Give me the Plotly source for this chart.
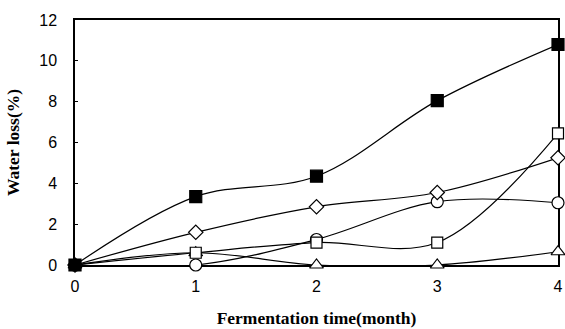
import plotly.graph_objects as go

months = [0, 1, 2, 3, 4]
filled_square = [0, 3.35, 4.35, 8.05, 10.8]
open_square = [0, 0.6, 1.1, 1.1, 6.45]
diamond = [0, 1.6, 2.85, 3.55, 5.25]
circle = [0, 0.0, 1.25, 3.1, 3.05]
triangle = [0, 0.6, 0.0, 0.0, 0.65]

series = [
    (circle, "circle", 12, "white"),
    (triangle, "triangle-up", 12, "white"),
    (open_square, "square", 11, "white"),
    (diamond, "diamond", 11, "white"),
    (filled_square, "square", 12, "black"),
]

fig = go.Figure()
for ys, sym, size, fill in series:
    fig.add_trace(go.Scatter(
        x=months, y=ys, mode="lines+markers",
        line=dict(color="black", width=1.2, shape="spline", smoothing=1),
        marker=dict(symbol=sym, size=size, color=fill,
                    line=dict(color="black", width=1.2)),
        cliponaxis=False, showlegend=False, hoverinfo="skip",
    ))

fig.update_layout(
    width=565, height=329,
    margin=dict(l=75, r=2, t=20, b=64),
    paper_bgcolor="white", plot_bgcolor="white",
    font=dict(family="Liberation Sans, Arial", size=16, color="black"),
)
fig.update_xaxes(
    range=[0, 4], tickvals=[0, 1, 2, 3, 4], showgrid=False, zeroline=False,
    showline=True, linecolor="black", linewidth=1.5, mirror=True,
    ticks="inside", ticklen=3, tickcolor="black", ticklabeloverflow="allow",
    ticklabelstandoff=6, layer="below traces",
    title=dict(text="<b>Fermentation time(month)</b>",
               font=dict(family="Liberation Serif, Times New Roman", size=17.5), standoff=18),
)
fig.update_yaxes(
    range=[0, 12], tickvals=[0, 2, 4, 6, 8, 10, 12], showgrid=False, zeroline=False,
    showline=True, linecolor="black", linewidth=1.5, mirror=True,
    ticks="inside", ticklen=3, tickcolor="black", ticklabeloverflow="allow",
    ticklabelstandoff=13, layer="below traces",
    title=dict(text="<b>Water loss(%)</b>",
               font=dict(family="Liberation Serif, Times New Roman", size=17.5), standoff=15),
)

fig.write_html("out.html", config={"displayModeBar": False},
               post_script="document.body.style.margin='0';")
